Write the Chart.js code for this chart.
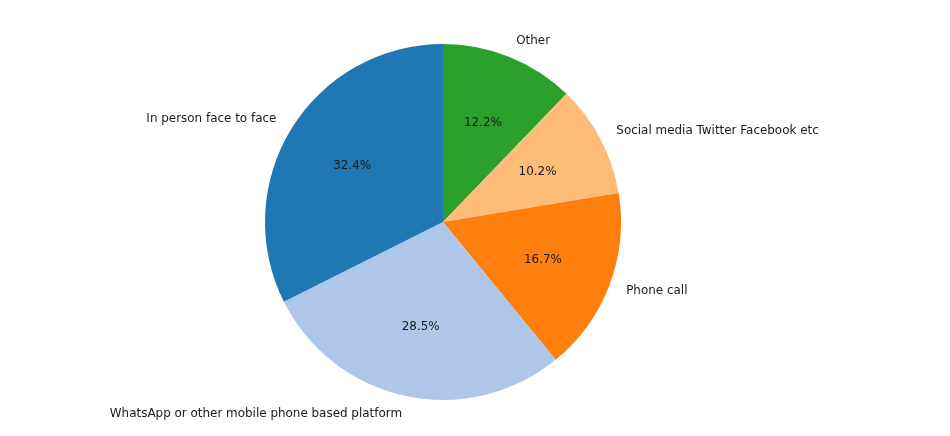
<!DOCTYPE html>
<html>
<head>
<meta charset="utf-8">
<script src="https://cdn.jsdelivr.net/npm/chart.js@4"></script>
<style>
html,body{margin:0;padding:0;background:#fff;}
#wrap{width:950px;height:436px;position:relative;}
</style>
</head>
<body>
<div id="wrap"><canvas id="c" width="950" height="436"></canvas></div>
<script>
// Data in matplotlib order (counter-clockwise from top)
const categories = ["In person face to face", "WhatsApp or other mobile phone based platform", "Phone call", "Social media Twitter Facebook etc", "Other"];
const shares = [32.4, 28.5, 16.7, 10.2, 12.2];
const colors = ["#1f77b4", "#aec7e8", "#ff7f0e", "#ffbb78", "#2ca02c"];

// Chart.js draws clockwise, so reverse to reproduce counter-clockwise layout
const labelsCW = categories.slice().reverse();
const valuesCW = shares.slice().reverse();
const colorsCW = colors.slice().reverse();

const FONT = '11.95px "DejaVu Sans", sans-serif';

const pieLabels = {
  id: 'pieLabels',
  afterDatasetsDraw(chart) {
    const ctx = chart.ctx;
    const meta = chart.getDatasetMeta(0);
    const data = chart.data.datasets[0].data;
    const total = data.reduce((a, b) => a + b, 0);
    ctx.save();
    ctx.font = FONT;
    ctx.fillStyle = '#1a1a1a';
    ctx.textBaseline = 'middle';
    meta.data.forEach((arc, i) => {
      const mid = (arc.startAngle + arc.endAngle) / 2;
      const r = arc.outerRadius;
      const c = Math.cos(mid), s = Math.sin(mid);
      // outer label
      ctx.textAlign = c >= 0 ? 'left' : 'right';
      ctx.fillText(chart.data.labels[i], arc.x + 1.1 * r * c, arc.y + 1.1 * r * s);
      // percentage
      ctx.textAlign = 'center';
      ctx.fillText((data[i] / total * 100).toFixed(1) + '%', arc.x + 0.6 * r * c, arc.y + 0.6 * r * s);
    });
    ctx.restore();
  }
};

new Chart(document.getElementById('c'), {
  type: 'pie',
  data: {
    labels: labelsCW,
    datasets: [{
      data: valuesCW,
      backgroundColor: colorsCW,
      borderWidth: 0
    }]
  },
  options: {
    responsive: false,
    animation: false,
    layout: { padding: { top: 44, bottom: 36, left: 0, right: 64 } },
    plugins: { legend: { display: false }, tooltip: { enabled: false } }
  },
  plugins: [pieLabels]
});
</script>
</body>
</html>
